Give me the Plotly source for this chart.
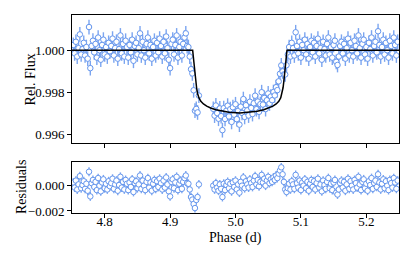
import numpy as np
import plotly.graph_objects as go

# ---- transit model ----
model_phase = [4.75, 4.9345, 4.9360, 4.9375, 4.9390, 4.9405, 4.9420, 4.9440, 4.9470,
               4.9510, 4.9560, 4.9620, 4.9700, 4.9800, 4.9900, 5.0066, 5.0232, 5.0332,
               5.0432, 5.0512, 5.0572, 5.0622, 5.0662, 5.0692, 5.0712, 5.0727, 5.0742,
               5.0757, 5.0772, 5.0787, 5.25]
model_flux = [1.0000, 1.0000, 0.99955, 0.99905, 0.99860, 0.99822, 0.99795, 0.99775, 0.99758,
              0.99745, 0.99735, 0.99726, 0.99718, 0.99711, 0.99706, 0.99702, 0.99706, 0.99711,
              0.99718, 0.99726, 0.99735, 0.99745, 0.99758, 0.99775, 0.99795, 0.99822, 0.99860,
              0.99905, 0.99955, 1.0000, 1.0000]

# ---- observations: residuals in ppm, two contiguous segments ----
cadence = 0.002
seg_a_start = 4.752
resid_a_ppm = [250, -150, 400, -300, 100, 750, -200, 50, 350, -250,
               150, -400, 1100, -850, 200, 450, -100, 300, -350, 600,
               0, -450, 250, 500, -200, 150, -300, 350, -50, 200,
               550, -250, 100, 400, -400, 50, 700, -150, 300, -300,
               450, 150, -350, 250, -100, 500, -500, 200, 350, -200,
               100, 800, -250, 400, 0, -350, 300, 600, -150, 250,
               -400, 150, 450, -250, 350, -100, 550, 200, -300, 400,
               -150, 650, 100, -450, -850, 300, 500, -200, 250, 700,
               -350, 150, 400, -250, 300, 600, 800, 200, 150, -300,
               -900, -1100, -1450, -1770, -1130, -900, 100]
seg_b_start = 4.966
resid_b_ppm = [0, -300, 200, -150, -400, 100, -250, -900, 150, -350,
               50, 300, -200, 150, -450, 250, -100, 400, -300, 100,
               -550, 300, 0, 650, -200, 350, 100, -150, 500, 200,
               -100, 400, 750, 100, 450, -50, 300, 850, 250, 550,
               0, 400, 700, 200, 500, 300, 650, 450, 800, 600,
               950, 1200, 1450, 900, 300, -300, -500, -200, 150, -300,
               350, 100, -250, 850, 200, -150, 400, -350, 250, 0,
               500, -200, 300, -400, 150, 450, -100, 350, -300, 200,
               550, -150, 100, -450, 400, 50, -250, 300, 600, -200,
               150, -350, 250, 450, -550, -700, -300, 200, 400, -150,
               300, -400, 100, 550, -250, 350, 0, -300, 450, 200,
               -150, 700, 100, -350, 300, 500, -200, 150, -400, 350,
               50, 600, -250, 200, 400, -100, 900, 250, -300, 150,
               500, -200, 350, 0, -350, 450, 200, -150, 600, 250,
               -250, 400]
flux_err = 0.00035

flux_ticks = [0.996, 0.998, 1.000]
resid_ticks = [-0.002, 0.000]
phase_ticks = [4.8, 4.9, 5.0, 5.1, 5.2]

phase = np.concatenate([seg_a_start + cadence * np.arange(len(resid_a_ppm)),
                        seg_b_start + cadence * np.arange(len(resid_b_ppm))])
resid = np.array(resid_a_ppm + resid_b_ppm) * 1e-6
flux = np.interp(phase, model_phase, model_flux) + resid

blue = "#6495ED"
err_col = "rgba(100,149,237,0.85)"
mk = dict(symbol="circle", size=5.5, color="white", line=dict(color=blue, width=1))

fig = go.Figure()
fig.add_trace(go.Scatter(x=phase, y=flux, mode="markers", marker=mk,
                         error_y=dict(type="constant", value=flux_err, thickness=1.4,
                                      width=0, color=err_col),
                         xaxis="x", yaxis="y"))
fig.add_trace(go.Scatter(x=model_phase, y=model_flux, mode="lines",
                         line=dict(color="black", width=1.5), xaxis="x", yaxis="y"))
fig.add_trace(go.Scatter(x=phase, y=resid, mode="markers", marker=mk,
                         error_y=dict(type="constant", value=flux_err, thickness=1.4,
                                      width=0, color=err_col),
                         xaxis="x2", yaxis="y2"))

serif = "Liberation Serif"
ax = dict(showline=True, mirror=True, linecolor="black", linewidth=1, showgrid=False,
          zeroline=False, ticks="outside", ticklen=4, tickcolor="black", tickwidth=1,
          automargin=False, tickfont=dict(family=serif, size=13))
tfont = dict(family=serif, size=14, color="black")

fig.update_layout(
    width=415, height=260,
    margin=dict(l=72, r=16, t=15, b=47),
    paper_bgcolor="white", plot_bgcolor="white",
    showlegend=False,
    font=dict(family=serif, size=13, color="black"),
    xaxis=dict(ax, domain=[0, 1], anchor="y", range=[4.75, 5.25], tickvals=phase_ticks,
               showticklabels=False),
    yaxis=dict(ax, domain=[0.3535, 1], anchor="x", range=[0.9956, 1.00167],
               tickvals=flux_ticks, tickformat=".3f"),
    xaxis2=dict(ax, domain=[0, 1], anchor="y2", range=[4.75, 5.25], tickvals=phase_ticks,
                tickformat=".1f", ticklabelstandoff=-8),
    yaxis2=dict(ax, domain=[0, 0.2576], anchor="x2", range=[-0.00216, 0.00187],
                tickvals=resid_ticks, tickformat=".3f"),
    annotations=[
        dict(text="Rel. Flux", xref="paper", yref="paper", x=-0.127, y=0.677,
             textangle=-90, showarrow=False, xanchor="center", yanchor="middle", font=tfont),
        dict(text="Residuals", xref="paper", yref="paper", x=-0.154, y=0.129,
             textangle=-90, showarrow=False, xanchor="center", yanchor="middle", font=tfont),
        dict(text="Phase (d)", xref="paper", yref="paper", x=0.5, y=-0.125,
             showarrow=False, xanchor="center", yanchor="middle", font=tfont),
    ],
)

fig.write_html("out.html", config={"displayModeBar": False},
               post_script="document.body.style.margin='0';")
